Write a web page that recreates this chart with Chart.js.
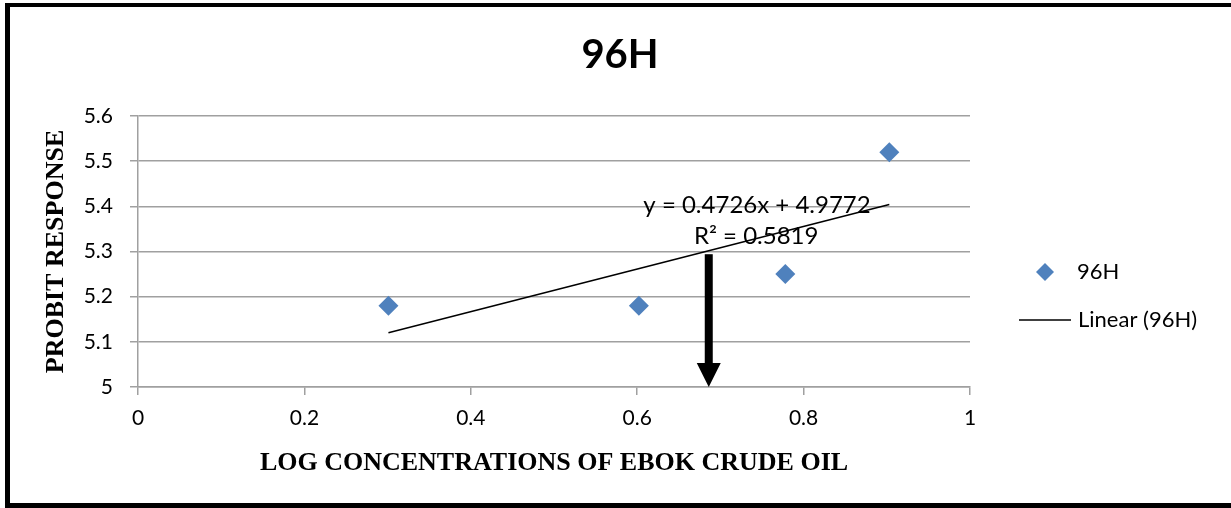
<!DOCTYPE html>
<html>
<head>
<meta charset="utf-8">
<script src="https://cdn.jsdelivr.net/npm/chart.js@4/dist/chart.umd.min.js"></script>
<style>
  html, body { margin: 0; padding: 0; background: #fff; overflow: hidden; }
  #frame {
    position: absolute; left: 5px; top: 3px; width: 1260px; height: 505px;
    box-sizing: border-box; border: 5px solid #000; border-top-width: 4px; border-right: none;
  }
  #chart { position: absolute; left: 0; top: 0; }
</style>
</head>
<body>
<div id="frame"></div>
<canvas id="chart" width="1231" height="508"></canvas>
<script>
// 96H probit data
const logConc = [0.301, 0.602, 0.778, 0.903];
const probit = [5.18, 5.18, 5.25, 5.52];

// trendline end points
const trendX = [0.301, 0.903];
const trendY = [5.12, 5.404];

const chartTitle = '96H';
const equation = 'y = 0.4726x + 4.9772';
const rSquared = 'R² = 0.5819';

// arrow marking the LC50 reading
const arrowX = 0.686;
const arrowFrom = 5.294;
const arrowTo = 5.0;

const yTicks = [5, 5.1, 5.2, 5.3, 5.4, 5.5, 5.6];
const xTicks = [0, 0.2, 0.4, 0.6, 0.8, 1];

const marker = '#4f81bd';
const gridGray = '#a0a0a0';
const sans = "Lato, 'Open Sans', sans-serif";
const serif = "'Liberation Serif', 'Times New Roman', serif";

const extras = {
    id: 'extras',
    afterDatasetsDraw(chart) {
        const { ctx, scales: { x, y } } = chart;
        ctx.save();

        // title, centred on the whole picture
        ctx.fillStyle = '#000';
        ctx.textAlign = 'center';
        ctx.textBaseline = 'middle';
        ctx.font = 'bold 40px ' + sans;
        ctx.fillText(chartTitle, 620, 55);

        // equation + R²
        ctx.font = '24px ' + sans;
        ctx.fillText(equation, x.getPixelForValue(0.744), y.getPixelForValue(5.403));
        ctx.fillText(rSquared, x.getPixelForValue(0.743), y.getPixelForValue(5.333));

        // arrow
        const ax = x.getPixelForValue(arrowX);
        const top = y.getPixelForValue(arrowFrom);
        const tip = y.getPixelForValue(arrowTo);
        const head = 24;
        ctx.fillRect(ax - 4, top, 8, tip - top - head + 2);
        ctx.beginPath();
        ctx.moveTo(ax - 12, tip - head);
        ctx.lineTo(ax + 12, tip - head);
        ctx.lineTo(ax, tip);
        ctx.closePath();
        ctx.fill();

        // legend
        const lx = 1045;
        ctx.fillStyle = marker;
        ctx.beginPath();
        ctx.moveTo(lx, 263);
        ctx.lineTo(lx + 9, 272);
        ctx.lineTo(lx, 281);
        ctx.lineTo(lx - 9, 272);
        ctx.closePath();
        ctx.fill();
        ctx.strokeStyle = '#000';
        ctx.lineWidth = 1.5;
        ctx.beginPath();
        ctx.moveTo(1019, 320);
        ctx.lineTo(1071, 320);
        ctx.stroke();
        ctx.fillStyle = '#000';
        ctx.font = '22px ' + sans;
        ctx.textAlign = 'left';
        ctx.fillText(chart.data.datasets[0].label, 1077, 272);
        ctx.fillText(chart.data.datasets[1].label, 1078, 320);
        ctx.restore();
    },
};

new Chart(document.getElementById('chart'), {
    type: 'scatter',
    data: {
        datasets: [
            {
                label: '96H',
                data: logConc.map((v, i) => ({ x: v, y: probit[i] })),
                pointStyle: 'rectRot',
                pointRadius: 10,
                pointHoverRadius: 10,
                backgroundColor: marker,
                borderColor: marker,
                borderWidth: 0,
                order: 1,
            },
            {
                label: 'Linear (96H)',
                type: 'line',
                data: trendX.map((v, i) => ({ x: v, y: trendY[i] })),
                borderColor: '#000',
                borderWidth: 1.5,
                pointRadius: 0,
                fill: false,
                order: 2,
            },
        ],
    },
    options: {
        responsive: false,
        animation: false,
        events: [],
        layout: { padding: { left: 41, right: 261, top: 116, bottom: 29 } },
        plugins: {
            legend: { display: false },
            tooltip: { enabled: false },
            title: { display: false },
        },
        scales: {
            x: {
                type: 'linear',
                min: 0,
                max: 1,
                afterBuildTicks: (s) => { s.ticks = xTicks.map((v) => ({ value: v })); },
                afterFit: (s) => { s.height = 92; },
                ticks: {
                    color: '#000',
                    font: { family: sans, size: 21 },
                    padding: 11,
                    callback: (v) => String(+v.toFixed(1)),
                },
                grid: { drawOnChartArea: false, drawTicks: true, tickLength: 8, color: gridGray, lineWidth: 1.5 },
                border: { display: true, color: gridGray, width: 1.5 },
                title: {
                    display: true,
                    text: 'LOG CONCENTRATIONS OF EBOK CRUDE OIL',
                    color: '#000',
                    font: { family: serif, size: 26, weight: 'bold' },
                    padding: 0,
                },
            },
            y: {
                min: 5,
                max: 5.6,
                afterBuildTicks: (s) => { s.ticks = yTicks.map((v) => ({ value: v })); },
                afterFit: (s) => { s.width = 97; },
                ticks: {
                    color: '#000',
                    font: { family: sans, size: 21 },
                    padding: 17,
                    callback: (v) => String(+v.toFixed(1)),
                },
                grid: { color: gridGray, lineWidth: 1.5, tickLength: 8 },
                border: { display: true, color: gridGray, width: 1.5 },
                title: {
                    display: true,
                    text: 'PROBIT RESPONSE',
                    color: '#000',
                    font: { family: serif, size: 26, weight: 'bold' },
                    padding: 0,
                },
            },
        },
    },
    plugins: [extras],
});
</script>
</body>
</html>
